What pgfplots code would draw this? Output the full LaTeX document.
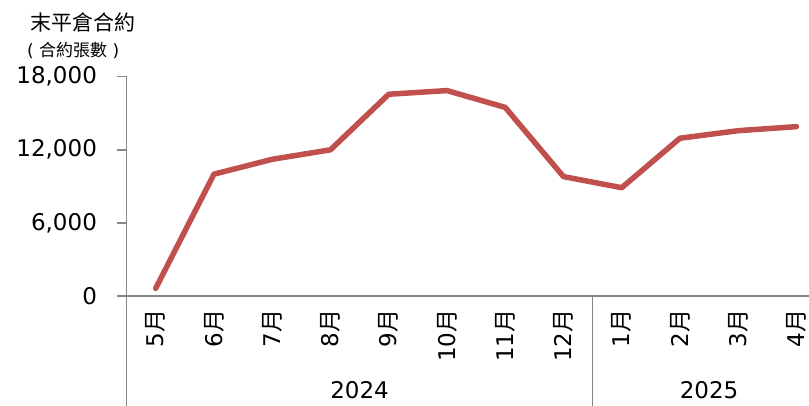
\documentclass[border=0pt]{standalone}
\usepackage{fontspec}
\setmainfont{DejaVu Sans}
\newfontfamily\cjk{Noto Sans CJK TC}
\usepackage{pgfplots}
\pgfplotsset{compat=1.18}
\definecolor{linered}{RGB}{192,80,77}
\definecolor{axgray}{RGB}{134,134,134}
\begin{document}
\begin{tikzpicture}
\useasboundingbox (0,0) rectangle (809pt,406pt);
\clip (0,0) rectangle (809pt,406pt);
\begin{axis}[
  at={(126.6pt,110pt)}, anchor=south west,
  scale only axis, width=699pt, height=219.3pt,
  xmin=-0.5, xmax=11.5, ymin=0, ymax=18000,
  clip=false, scaled y ticks=false,
  axis x line*=bottom, axis y line*=left,
  axis line style={axgray, line width=1.5pt},
  tick align=outside, major tick length=9.5pt,
  ytick={0,6000,12000,18000},
  yticklabels={0,{6,000},{12,000},{18,000}},
  ytick style={axgray, line width=1.5pt},
  yticklabel style={font=\fontsize{23}{23}\selectfont, inner sep=0pt, anchor=east},
  yticklabel shift=20pt,
  xtick={0,...,11},
  xticklabels={5{\cjk 月},6{\cjk 月},7{\cjk 月},8{\cjk 月},9{\cjk 月},10{\cjk 月},11{\cjk 月},12{\cjk 月},1{\cjk 月},2{\cjk 月},3{\cjk 月},4{\cjk 月}},
  xtick style={draw=none},
  xticklabel style={font=\fontsize{23}{23}\selectfont, rotate=90, anchor=east, inner sep=0pt},
  xticklabel shift=4pt,
]
\addplot[linered, line width=5.5pt, line join=round, line cap=round, mark=none] coordinates {
(0,630)(1,10000)(2,11220)(3,12000)(4,16560)(5,16860)(6,15480)(7,9800)(8,8890)(9,12950)(10,13570)(11,13900)};
\draw[axgray, line width=1.5pt] (axis cs:-0.5,0) -- ++(0pt,-115pt);
\draw[axgray, line width=1.5pt] (axis cs:7.5,0) -- ++(0pt,-115pt);
\node[anchor=base, font=\fontsize{23}{23}\selectfont, inner sep=0pt] at ([yshift=-103pt]axis cs:3.5,0) {2024};
\node[anchor=base, font=\fontsize{23}{23}\selectfont, inner sep=0pt] at ([yshift=-103pt]axis cs:9.5,0) {2025};
\end{axis}
\node[anchor=west, inner sep=0pt, font=\cjk\fontsize{21}{21}\selectfont] at (30pt,384pt) {末平倉合約};
\node[anchor=west, inner sep=0pt, font=\fontsize{17}{17}\selectfont] at (27pt,356pt) {(\ {\cjk 合約張數}\ )};
\end{tikzpicture}
\end{document}
